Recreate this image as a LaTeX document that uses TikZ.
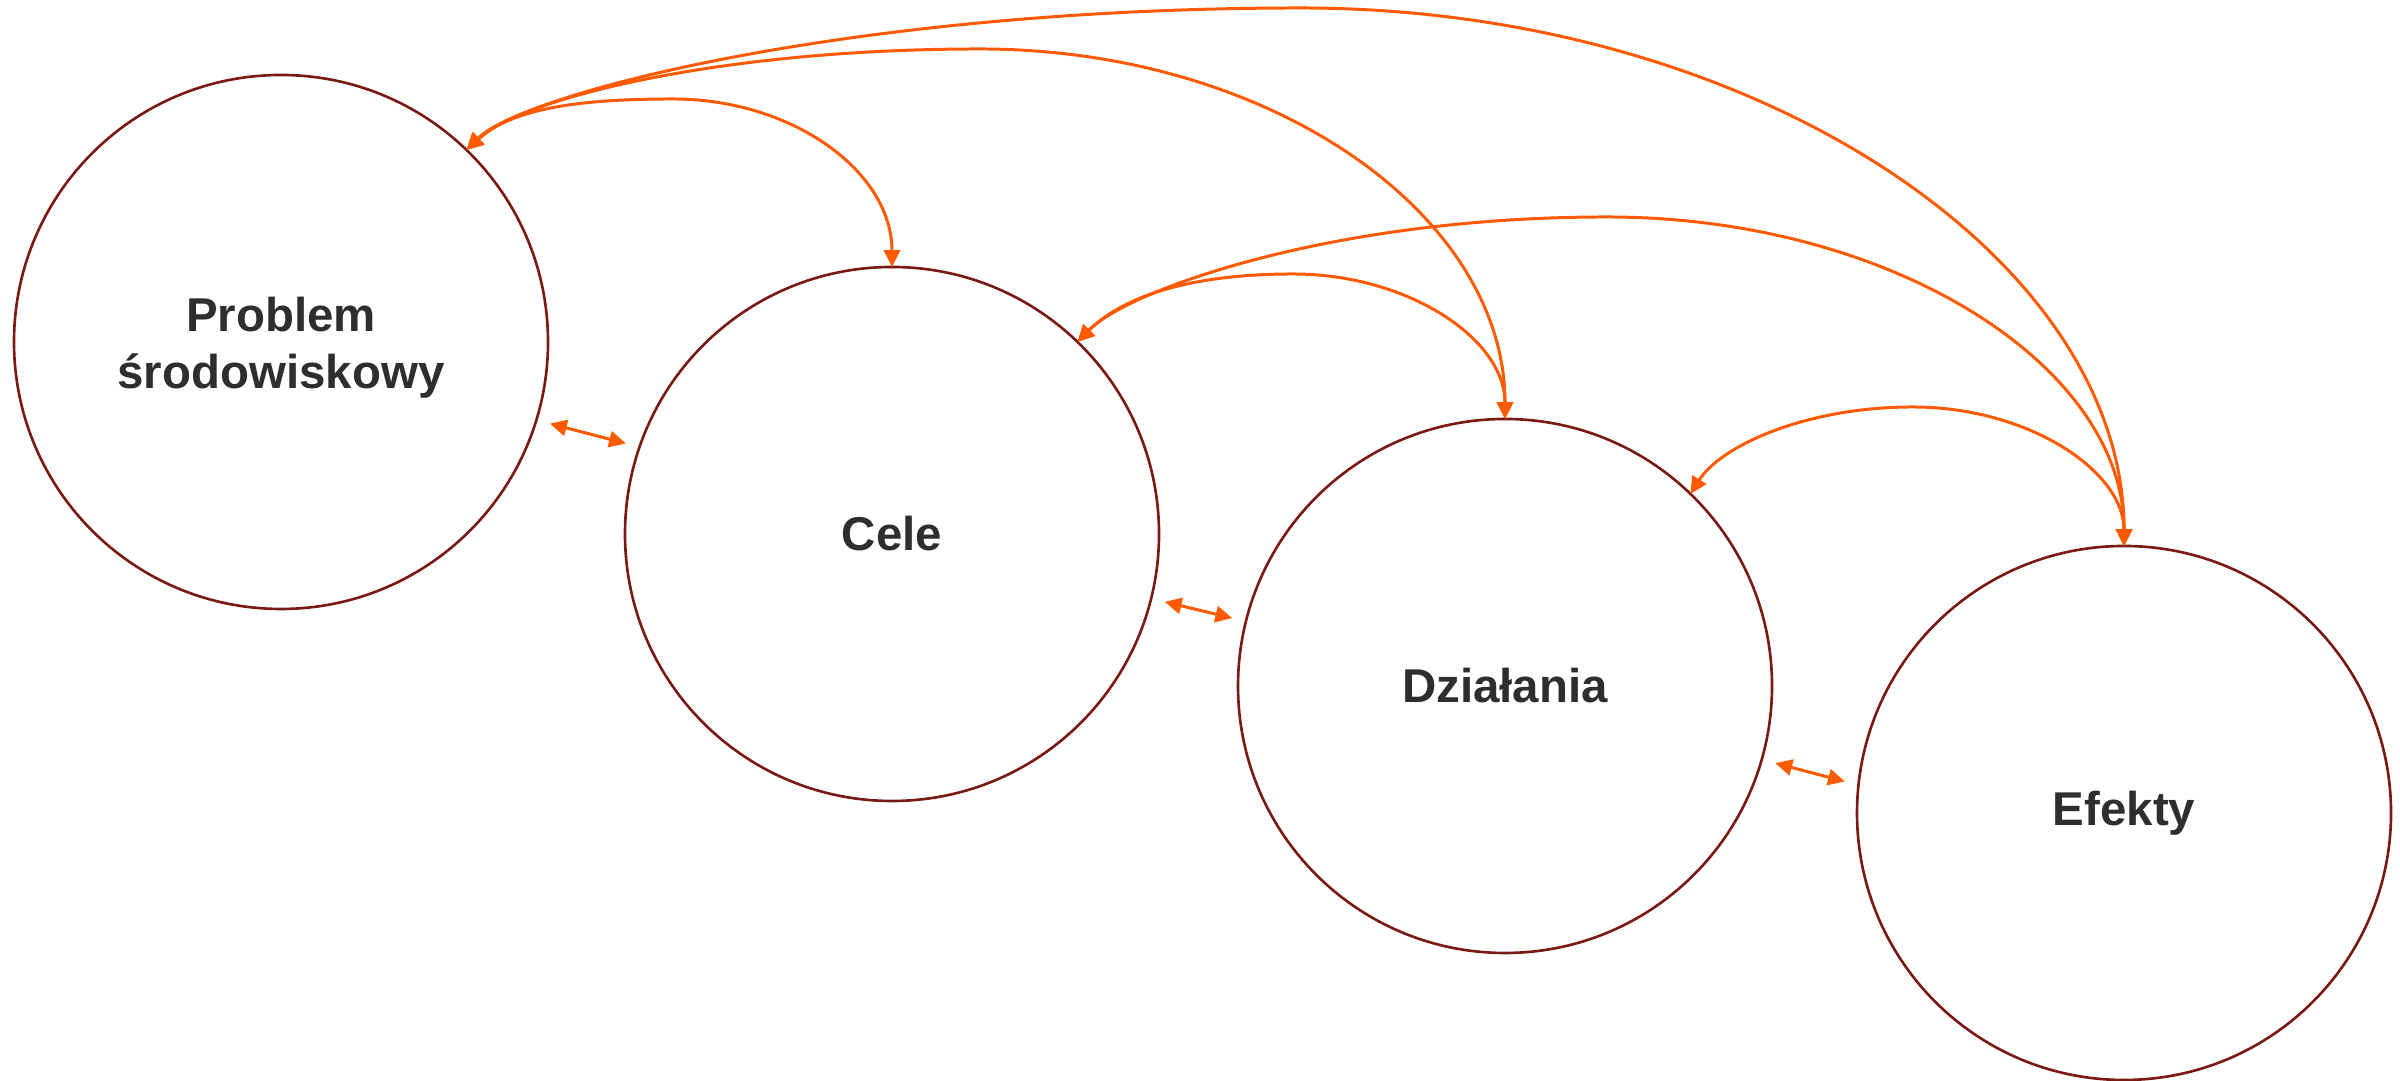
\documentclass[tikz,border=0pt]{standalone}
\usepackage{fontspec}
\setmainfont{Liberation Sans}
\usetikzlibrary{arrows.meta}
\usetikzlibrary{positioning}
\definecolor{ringred}{HTML}{7A1A14}
\definecolor{linkorange}{HTML}{FF5A00}
\definecolor{labelgray}{HTML}{2E2E2E}
\tikzset{bubble/.style = {circle, draw=ringred, line width=0.75pt,
                          minimum size=5.34cm, inner sep=0pt, outer sep=0pt,
                          text=labelgray, align=center,
                          font=\fontsize{13.5}{16}\selectfont\bfseries}}
\tikzset{link/.style = {draw=linkorange, line width=0.85pt,
                        >={Triangle[length=4.8pt,width=4.6pt]}, <->}}

\begin{document}
\begin{tikzpicture}
		\useasboundingbox (0,0) rectangle (24,10.81);
		
		\node[bubble, text height=29pt] (problem) at (2.81,7.39) {Problem\\środowiskowy};
		\node[bubble] (cele) at (8.92,5.47) {Cele};
		\node[bubble] (dzialania) at (15.05,3.95) {Działania};
		\node[bubble] (efekty) at (21.24,2.68) {Efekty};
		
		% short links between neighbours
		\draw[link, shorten <=4pt, shorten >=4pt] (problem.-17) -- (cele.161);
		\draw[link, shorten <=4pt, shorten >=4pt] (cele.-14) -- (dzialania.166);
		\draw[link, shorten <=4pt, shorten >=4pt] (dzialania.-16) -- (efekty.174);
		
		% long links over the top
		\draw[link] (problem.46) .. controls +(42:0.6) and +(180:1.0) .. (6.73,9.82)
		                         .. controls +(0:1.2) and +(90:0.95) .. (cele.north);
		\draw[link] (problem.46) .. controls +(44:0.7) and +(180:2.7) .. (9.80,10.32)
		                         .. controls +(0:2.9) and +(90:2.05) .. (dzialania.north);
		\draw[link] (problem.46) .. controls +(45:0.8) and +(180:4.5) .. (13.01,10.73)
		                         .. controls +(0:4.5) and +(90:2.9) .. (efekty.north);
		\draw[link] (cele.46) .. controls +(45:0.6) and +(180:1.1) .. (12.93,8.07)
		                      .. controls +(0:1.15) and +(90:0.8) .. (dzialania.north);
		\draw[link] (cele.46) .. controls +(46:0.7) and +(180:2.8) .. (16.07,8.64)
		                      .. controls +(0:2.85) and +(90:1.8) .. (efekty.north);
		\draw[link] (dzialania.46) .. controls +(58:0.55) and +(180:1.1) .. (19.13,6.74)
		                           .. controls +(0:1.15) and +(90:0.75) .. (efekty.north);
\end{tikzpicture}
\end{document}
